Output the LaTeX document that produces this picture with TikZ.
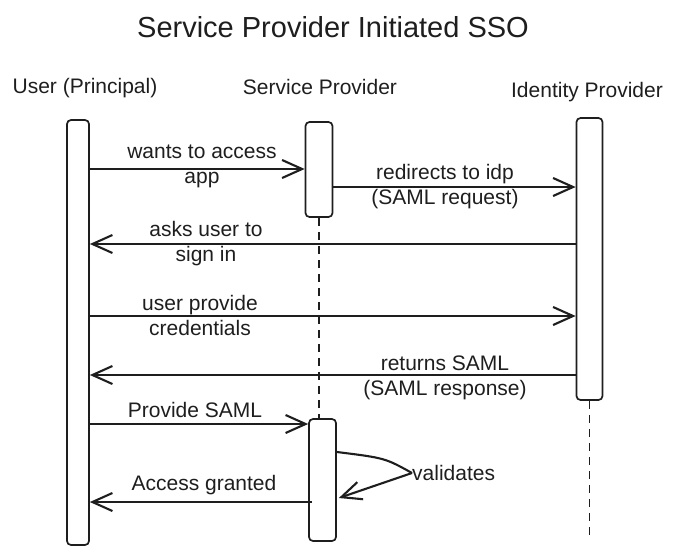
\documentclass[tikz,border=0pt]{standalone}
\usepackage{fontspec}
\setmainfont{Liberation Sans}
\usetikzlibrary{arrows.meta}
\definecolor{ink}{HTML}{1E1E1E}
\begin{document}
\begin{tikzpicture}[x=1pt,y=-1pt,
  life/.style={draw=ink, line width=1.7pt, rounded corners=4pt, fill=white, inner sep=0pt},
  msg/.style={draw=ink, line width=2.1pt, -{Straight Barb[length=20pt,width=18pt,line width=2.1pt]}},
  lbl/.style={text=ink, font=\fontsize{21}{25}\selectfont, align=center, inner sep=0pt},
  lifedash/.style={draw=ink, line width=1.9pt, dash pattern=on 8pt off 6pt}
]
\useasboundingbox (0,0) rectangle (683,555);

% titles
\node[lbl, font=\fontsize{29}{35}\selectfont] (title) at (333,27) {Service Provider Initiated SSO};
\node[lbl] (tu) at (85,88) {User (Principal)};
\node[lbl] (tsp) at (320,87) {Service Provider};
\node[lbl] (tidp) at (587,92) {Identity Provider};

% row coordinates
\coordinate (r1) at (0,169);
\coordinate (r2) at (0,187);
\coordinate (r3) at (0,244);
\coordinate (r4) at (0,316);
\coordinate (r5) at (0,375);
\coordinate (r6) at (0,424);
\coordinate (r7) at (0,502);
\coordinate (v1) at (0,452);
\coordinate (v3) at (0,498);
\coordinate (idpend) at (0,535);

% lifeline boxes
\node[life, minimum width=22pt, minimum height=425pt] (u) at (78,332.5) {};
\node[life, minimum width=27pt, minimum height=95pt] (sp1) at (319,169.5) {};
\node[life, minimum width=26pt, minimum height=282pt] (idp) at (589.5,259) {};

% dashed lifelines
\draw[lifedash] (sp1.south) -- ([yshift=-3pt]sp1.south |- 0,419);
\draw[lifedash] (idp.south) -- (idp.south |- idpend);

\node[life, minimum width=27pt, minimum height=122pt] (sp2) at (322.5,480) {};

% messages
\draw[msg] (u.east |- r1) -- (sp1.west |- r1);
\node[lbl] (l1) at (202,166) {wants to access\\app};

\draw[msg] (sp1.east |- r2) -- (idp.west |- r2);
\node[lbl] (l2) at (445,187) {redirects to idp\\(SAML request)};

\draw[msg] (idp.west |- r3) -- (u.east |- r3);
\node[lbl] (l3) at (206,244) {asks user to\\sign in};

\draw[msg] (u.east |- r4) -- (idp.west |- r4);
\node[lbl] (l4) at (200,315) {user provide\\credentials};

\draw[msg] (idp.west |- r5) -- (u.east |- r5);
\node[lbl] (l5) at (445,378) {returns SAML\\(SAML response)};

\draw[msg] (u.east |- r6) -- (sp2.west |- r6);
\node[lbl] (l6) at (195,410) {Provide SAML};

% self message
\node[lbl, anchor=west] (val) at (412,473) {validates};
\draw[draw=ink, line width=2.1pt] (sp2.east |- v1) .. controls (385,458) .. (val.west);
\draw[msg] (val.west) -- ([xshift=2pt]sp2.east |- v3);

\draw[msg] ([xshift=4pt]sp2.west |- r7) -- (u.east |- r7);
\node[lbl] (l7) at (204,485) {Access granted};
\end{tikzpicture}
\end{document}
